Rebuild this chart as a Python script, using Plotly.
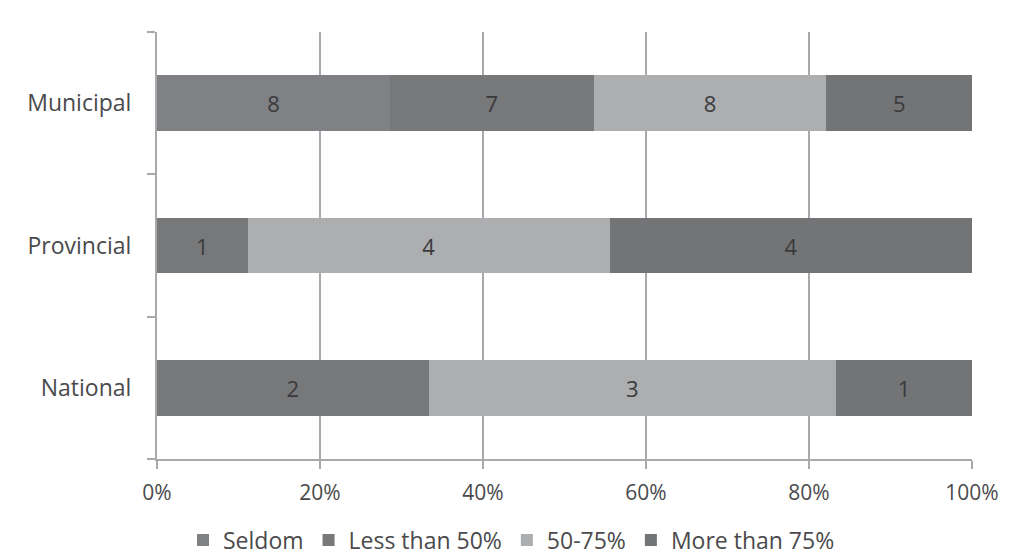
import plotly.graph_objects as go

# Government levels, bottom to top
levels = ["National", "Provincial", "Municipal"]

# Counts per response category for each level
seldom = [0, 0, 8]
less_than_50 = [2, 1, 7]
pct_50_75 = [3, 4, 8]
more_than_75 = [1, 4, 5]

series_names = ["Seldom", "Less than 50%", "50-75%", "More than 75%"]
series_values = [seldom, less_than_50, pct_50_75, more_than_75]
series_colors = ["#808184", "#77787a", "#adaeb0", "#737476"]

FONT = "Open Sans, Liberation Sans, sans-serif"
GRID = "#a9a9ab"
TEXT = "#4a4a4c"

fig = go.Figure()
for name, vals, color in zip(series_names, series_values, series_colors):
    fig.add_trace(go.Bar(
        name=name,
        y=levels,
        x=vals,
        orientation="h",
        marker=dict(color=color, line=dict(width=0)),
        text=[str(v) if v else "" for v in vals],
        textposition="inside",
        insidetextanchor="middle",
        textfont=dict(family=FONT, size=22, color="#3a3a3c"),
        hoverinfo="skip",
    ))

fig.update_layout(
    barmode="stack",
    barnorm="percent",
    bargap=0.61,
    width=1023,
    height=555,
    # fixed plot area; the legend sits in the bottom margin without resizing it
    margin=dict(l=157, r=51, t=32, b=96, autoexpand=False),
    paper_bgcolor="white",
    plot_bgcolor="white",
    font=dict(family=FONT, size=22, color=TEXT),
    uniformtext=dict(mode="show", minsize=10),
    legend=dict(
        orientation="h",
        xref="container", x=0.5, xanchor="center",
        yref="container", y=0.027, yanchor="middle",
        font=dict(family=FONT, size=23, color=TEXT),
        itemwidth=30,
        tracegroupgap=0,
        traceorder="normal",
    ),
    showlegend=True,
)

fig.update_xaxes(
    range=[0, 100],
    dtick=20,
    ticksuffix="%",
    showgrid=True,
    gridcolor=GRID,
    gridwidth=1.5,
    zeroline=False,
    showline=True,
    linecolor=GRID,
    linewidth=2,
    ticks="outside",
    ticklen=8,
    tickcolor=GRID,
    tickwidth=1.5,
    ticklabelstandoff=6,
    tickfont=dict(family=FONT, size=21, color=TEXT),
    fixedrange=True,
)

fig.update_yaxes(
    categoryorder="array",
    categoryarray=levels,
    showgrid=False,
    showline=True,
    linecolor=GRID,
    linewidth=2,
    ticks="outside",
    tickson="boundaries",
    ticklen=8,
    tickcolor=GRID,
    tickwidth=1.5,
    ticklabelstandoff=19,
    tickfont=dict(family=FONT, size=23, color=TEXT),
    fixedrange=True,
)

fig.write_html("out.html")
